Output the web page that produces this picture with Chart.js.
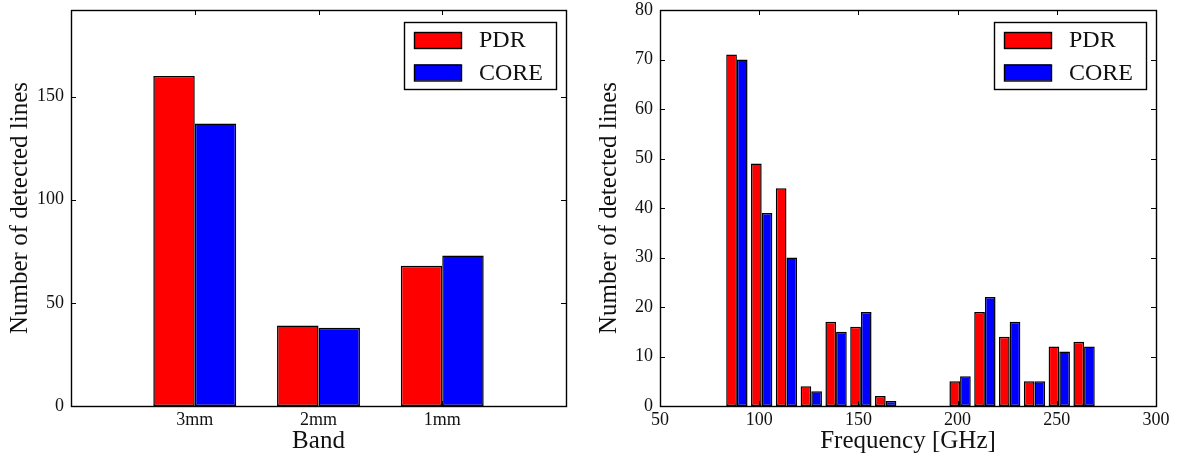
<!DOCTYPE html>
<html>
<head>
<meta charset="utf-8">
<title>Detected lines</title>
<script src="https://cdn.jsdelivr.net/npm/chart.js@4.4.1/dist/chart.umd.min.js"></script>
<style>
  body { margin: 0; background: #fff; }
  .row { display: flex; width: 1178px; height: 460px; }
  canvas { display: block; }
</style>
</head>
<body>
<div class="row">
  <canvas id="bandChart" width="589" height="460"></canvas>
  <canvas id="freqChart" width="589" height="460"></canvas>
</div>
<script>
// left panel: lines per band
const bands = ['3mm', '2mm', '1mm'];
const bandPos = [0, 1, 2];
const bandPDR = [160, 39, 68];
const bandCORE = [137, 38, 73];

// right panel: lines per frequency bin (bin centres in GHz)
const binCenters = [88.75, 101.25, 113.75, 126.25, 138.75, 151.25, 163.75, 176.25,
                    188.75, 201.25, 213.75, 226.25, 238.75, 251.25, 263.75];
const freqPDR  = [71, 49, 44, 4, 17, 16, 2, 0, 0, 5, 19, 14, 5, 12, 13];
const freqCORE = [70, 39, 30, 3, 15, 19, 1, 0, 0, 6, 22, 17, 5, 11, 12];
const freqTicks = [50, 100, 150, 200, 250, 300];

Chart.defaults.font.family = '"Liberation Serif", "Times New Roman", serif';
Chart.defaults.color = '#111';

const RED = '#ff0000';
const BLUE = '#0000ff';

// frame + inward ticks on all four sides, like the matplotlib box
const framePlugin = {
  id: 'frame',
  afterDatasetsDraw(chart) {
    const {ctx, chartArea: a, scales} = chart;
    ctx.save();
    ctx.strokeStyle = '#000';
    ctx.lineWidth = 1;
    const len = 5;
    ctx.beginPath();
    scales.x.ticks.forEach(t => {
      const px = Math.round(scales.x.getPixelForValue(t.value)) + 0.5;
      ctx.moveTo(px, a.bottom); ctx.lineTo(px, a.bottom - len);
      ctx.moveTo(px, a.top); ctx.lineTo(px, a.top + len);
    });
    scales.y.ticks.forEach(t => {
      const py = Math.round(scales.y.getPixelForValue(t.value)) + 0.5;
      ctx.moveTo(a.left, py); ctx.lineTo(a.left + len, py);
      ctx.moveTo(a.right, py); ctx.lineTo(a.right - len, py);
    });
    ctx.stroke();
    ctx.lineWidth = 1.4;
    ctx.strokeRect(Math.round(a.left) + 0.5, Math.round(a.top) + 0.5,
                   Math.round(a.right - a.left), Math.round(a.bottom - a.top));
    ctx.restore();
  }
};

// boxed legend in the upper right corner
const boxLegend = {
  id: 'boxLegend',
  afterDraw(chart) {
    const ctx = chart.ctx;
    const a = chart.chartArea;
    const x0 = a.right - 162, y0 = 22;
    ctx.save();
    ctx.fillStyle = '#fff';
    ctx.fillRect(x0, y0, 152, 67);
    ctx.strokeStyle = '#000';
    ctx.lineWidth = 1.4;
    ctx.strokeRect(x0 + 0.5, y0 + 0.5, 152, 67);
    ctx.font = '24px "Liberation Serif", serif';
    ctx.textBaseline = 'middle';
    chart.data.datasets.forEach((ds, i) => {
      const y = y0 + 10 + i * 32.5;
      ctx.fillStyle = ds.backgroundColor;
      ctx.fillRect(x0 + 10, y, 47, 16);
      ctx.lineWidth = 1.4;
      ctx.strokeRect(x0 + 10.5, y + 0.5, 47, 16);
      ctx.fillStyle = '#111';
      ctx.fillText(ds.label, x0 + 75, y + 9);
    });
    ctx.restore();
  }
};

function barSet(label, color, xs, ys) {
  return {
    label: label,
    data: ys.map((v, i) => ({x: xs[i], y: v})),
    backgroundColor: color,
    borderColor: '#000',
    borderWidth: 1.5,
    borderSkipped: false
  };
}

function axisFit(side) {
  if (side === 'y') {
    return s => { s.width = 71; s.paddingTop = 0; s.paddingBottom = 0; };
  }
  return s => { s.height = 54; };
}

const titleFont = {size: 25};
const tickFont = {size: 18};

new Chart(document.getElementById('bandChart'), {
  type: 'bar',
  data: {
    datasets: [
      barSet('PDR', RED, bandPos, bandPDR),
      barSet('CORE', BLUE, bandPos, bandCORE)
    ]
  },
  options: {
    responsive: false,
    animation: false,
    layout: {padding: {top: 10, right: 23, left: 0, bottom: 0}},
    categoryPercentage: 0.67,
    barPercentage: 1.0,
    plugins: {legend: {display: false}, tooltip: {enabled: false}},
    scales: {
      x: {
        type: 'linear', min: -1, max: 3, offset: false,
        afterBuildTicks: s => { s.ticks = bandPos.map(v => ({value: v})); },
        afterFit: axisFit('x'),
        grid: {display: false, drawTicks: false},
        border: {display: false},
        ticks: {font: tickFont, padding: 3, maxRotation: 0,
                callback: v => bands[v]},
        title: {display: true, text: 'Band', font: titleFont, padding: {top: 0, bottom: 4}}
      },
      y: {
        min: 0, max: 192,
        afterBuildTicks: s => { s.ticks = s.ticks.filter(t => t.value % 50 === 0); },
        afterFit: axisFit('y'),
        grid: {display: false, drawTicks: false},
        border: {display: false},
        ticks: {font: tickFont, padding: 7, stepSize: 50},
        title: {display: true, text: 'Number of detected lines', font: titleFont, padding: {top: 5, bottom: 0}}
      }
    }
  },
  plugins: [framePlugin, boxLegend]
});

new Chart(document.getElementById('freqChart'), {
  type: 'bar',
  data: {
    datasets: [
      barSet('PDR', RED, binCenters, freqPDR),
      barSet('CORE', BLUE, binCenters, freqCORE)
    ]
  },
  options: {
    responsive: false,
    animation: false,
    layout: {padding: {top: 10, right: 22, left: 0, bottom: 0}},
    categoryPercentage: 0.86,
    barPercentage: 1.0,
    plugins: {legend: {display: false}, tooltip: {enabled: false}},
    scales: {
      x: {
        type: 'linear', min: 50, max: 300, offset: false,
        afterBuildTicks: s => { s.ticks = freqTicks.map(v => ({value: v})); },
        afterFit: axisFit('x'),
        grid: {display: false, drawTicks: false},
        border: {display: false},
        ticks: {font: tickFont, padding: 3, maxRotation: 0},
        title: {display: true, text: 'Frequency [GHz]', font: titleFont, padding: {top: 0, bottom: 4}}
      },
      y: {
        min: 0, max: 80,
        afterFit: axisFit('y'),
        grid: {display: false, drawTicks: false},
        border: {display: false},
        ticks: {font: tickFont, padding: 7, stepSize: 10},
        title: {display: true, text: 'Number of detected lines', font: titleFont, padding: {top: 5, bottom: 0}}
      }
    }
  },
  plugins: [framePlugin, boxLegend]
});
</script>
</body>
</html>
